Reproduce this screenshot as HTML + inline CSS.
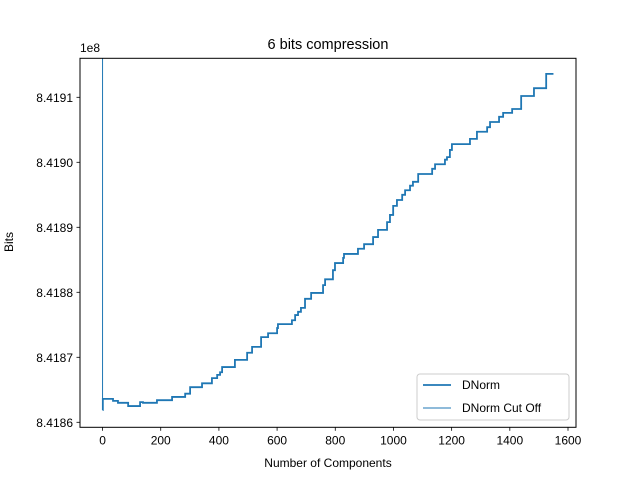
<!DOCTYPE html>
<html><head><meta charset="utf-8"><style>
body{margin:0;background:#fff;}
svg{display:block;font-family:"Liberation Sans","DejaVu Sans",sans-serif;}
</style></head><body>
<svg id="chart" width="640" height="480">
<rect width="640" height="480" fill="#fff"/>
<text x="328" y="49" font-size="14.5" text-anchor="middle">6 bits compression</text>
<text x="80" y="52" font-size="12">1e8</text>
<text x="328" y="467" font-size="12" text-anchor="middle">Number of Components</text>
<text x="0" y="0" font-size="12" text-anchor="middle" transform="translate(13,242) rotate(-90)">Bits</text>
<defs><clipPath id="plotclip"><rect x="80" y="58.3" width="496" height="369"/></clipPath></defs>
<g id="xticks"></g>
<g id="yticks"></g>
<g id="series" clip-path="url(#plotclip)"></g>
<rect x="80" y="58.3" width="496" height="369" fill="none" stroke="#000" stroke-width="1"/>
<g>
<rect x="417" y="374" width="152" height="46" rx="3" fill="#fff" stroke="#ccc" stroke-width="1"/>
<line x1="423" y1="385" x2="451" y2="385" stroke="#1f77b4" stroke-width="1.8"/>
<text x="462" y="389" font-size="12">DNorm</text>
<line x1="423" y1="408" x2="451" y2="408" stroke="#1f77b4" stroke-width="1"/>
<text x="462" y="412" font-size="12">DNorm Cut Off</text>
</g>
</svg>
<script>
const xTicks = [0,200,400,600,800,1000,1200,1400,1600];
const yTicks = [8.4186,8.4187,8.4188,8.4189,8.4190,8.4191];
const yTickLabels = ["8.4186","8.4187","8.4188","8.4189","8.4190","8.4191"];
const stepX = [0,1,36,53,88,129,139,187,239,284,301,342,376,394,404,411,455,497,514,545,569,600,603,651,662,672,682,696,717,758,765,792,799,827,830,878,899,930,947,978,988,999,1012,1030,1040,1057,1067,1085,1133,1143,1177,1184,1194,1201,1263,1287,1322,1332,1363,1377,1408,1439,1483,1525];
const stepY = [8.418619,8.418636,8.418633,8.418630,8.418625,8.418631,8.418630,8.418634,8.418639,8.418644,8.418654,8.418660,8.418668,8.418673,8.418677,8.418685,8.418696,8.418707,8.418716,8.418731,8.418737,8.418745,8.418751,8.418757,8.418765,8.418770,8.418776,8.418790,8.418799,8.418811,8.418820,8.418834,8.418845,8.418853,8.418859,8.418867,8.418874,8.418885,8.418896,8.418908,8.418919,8.418933,8.418942,8.418950,8.418957,8.418964,8.418970,8.418982,8.418990,8.418997,8.419004,8.419008,8.419019,8.419028,8.419036,8.419047,8.419054,8.419062,8.419070,8.419076,8.419082,8.419102,8.419114,8.419136];
const lastX = 1550;
const cutX = [0,0];
const cutY = [8.418619,8.41930];

const NS="http://www.w3.org/2000/svg";
const X0=80,X1=576,Y0=427.3,Y1=58.3;
const xmin=-77.5,xmax=1627.5,ymin=8.4185923,ymax=8.41916;
const sx=v=>X0+(v-xmin)/(xmax-xmin)*(X1-X0);
const sy=v=>Y0-(v-ymin)/(ymax-ymin)*(Y0-Y1);
function mk(tag,attrs,parent){const e=document.createElementNS(NS,tag);for(const k in attrs)e.setAttribute(k,attrs[k]);parent.appendChild(e);return e;}
const xg=document.getElementById('xticks'),yg=document.getElementById('yticks'),sg=document.getElementById('series');
xTicks.forEach(t=>{
  const l=mk('line',{x1:sx(t),x2:sx(t),y1:Y0,y2:Y0+3.5,stroke:'#000','stroke-width':0.8},xg);
  
  
  const tx=mk('text',{x:sx(t),y:Y0+17,'font-size':12,'text-anchor':'middle'},xg);
  tx.textContent=String(t);
  
  
});
yTicks.forEach((t,i)=>{
  const l=mk('line',{x1:X0-3.5,x2:X0,y1:sy(t),y2:sy(t),stroke:'#000','stroke-width':0.8},yg);
  
  
  const tx=mk('text',{x:X0-7,y:sy(t)+4.5,'font-size':12,'text-anchor':'end'},yg);
  tx.textContent=yTickLabels[i];
  
  
});
let d='';
for(let i=0;i<stepX.length;i++){
  const nx=i+1<stepX.length?stepX[i+1]:lastX;
  if(i===0)d+='M'+sx(stepX[i])+','+sy(stepY[i]);
  else d+='L'+sx(stepX[i])+','+sy(stepY[i]);
  d+='L'+sx(nx)+','+sy(stepY[i]);
}
const p=mk('path',{d:d,fill:'none',stroke:'#1f77b4','stroke-width':1.8,'stroke-linejoin':'miter'},sg);


const c=mk('path',{d:'M'+sx(cutX[0])+','+sy(cutY[0])+'L'+sx(cutX[1])+','+sy(cutY[1]),fill:'none',stroke:'#1f77b4','stroke-width':1},sg);


</script>
</body></html>
